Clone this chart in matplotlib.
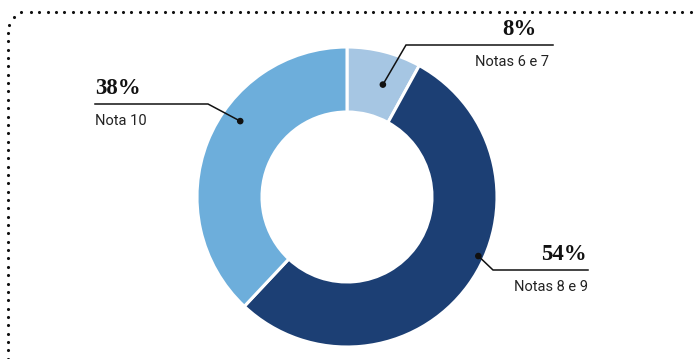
import numpy as np
import matplotlib
matplotlib.use('Agg')
import matplotlib.pyplot as plt
from matplotlib.patches import Circle

# satisfaction shares, clockwise from 12 o'clock
categories = ['Notas 6 e 7', 'Notas 8 e 9', 'Nota 10']
shares = [8, 54, 38]
pct_labels = ['8%', '54%', '38%']
colors = ['#a6c6e3', '#1c3f74', '#6daedb']

W, H = 694, 359
cx, cy = 347, H - 197
r_out, ring = 150, 65

fig = plt.figure(figsize=(W / 100, H / 100), dpi=100)
ax = fig.add_axes([0, 0, 1, 1])

wedges, _ = ax.pie(shares, colors=colors, startangle=90, counterclock=False,
                   center=(cx, cy), radius=r_out,
                   wedgeprops=dict(width=ring, edgecolor='white', linewidth=2.2))
ax.set_xlim(0, W)
ax.set_ylim(0, H)
ax.set_aspect('equal')
ax.axis('off')

# dotted frame: top and left edges joined by a rounded corner
dot_kw = dict(color='#111111', s=5, zorder=5, linewidths=0)
top_x = np.arange(31, W + 4, 8.35)
ax.scatter(top_x, np.full_like(top_x, H - 11.5), **dot_kw)
left_y = np.arange(H - 33, -4, -8.35)
ax.scatter(np.full_like(left_y, 8), left_y, **dot_kw)
ax.scatter([21, 14, 9], [H - 12, H - 17, H - 25], **dot_kw)

# callouts: dot angle/radius on the ring, elbow point, line end, text x
callouts = [
    dict(ang=72.3, rad=118, elbow=(406, H - 45), end=553, ha='right', px=537, tx=549),
    dict(ang=-24.2, rad=144, elbow=(493, H - 270), end=588, ha='right', px=587, tx=588),
    dict(ang=144.6, rad=131, elbow=(208, H - 104), end=95, ha='left', px=95, tx=95),
]

for c, pct, cat in zip(callouts, pct_labels, categories):
    a = np.radians(c['ang'])
    dx, dy = cx + c['rad'] * np.cos(a), cy + c['rad'] * np.sin(a)
    ex, ey = c['elbow']
    ax.plot([dx, ex, c['end']], [dy, ey, ey], color='#111111', lw=1.1,
            solid_joinstyle='miter', zorder=4)
    ax.add_patch(Circle((dx, dy), 2.6, color='#111111', zorder=6))
    ax.text(c['px'], ey + 5, pct, ha=c['ha'], va='bottom',
            family='Liberation Serif', weight='bold', fontsize=16.5, color='#111111')
    ax.text(c['tx'], ey - 10, cat, ha=c['ha'], va='top',
            family='Roboto', fontsize=10.5, color='#222222')

fig.savefig('out.png', dpi=100)
